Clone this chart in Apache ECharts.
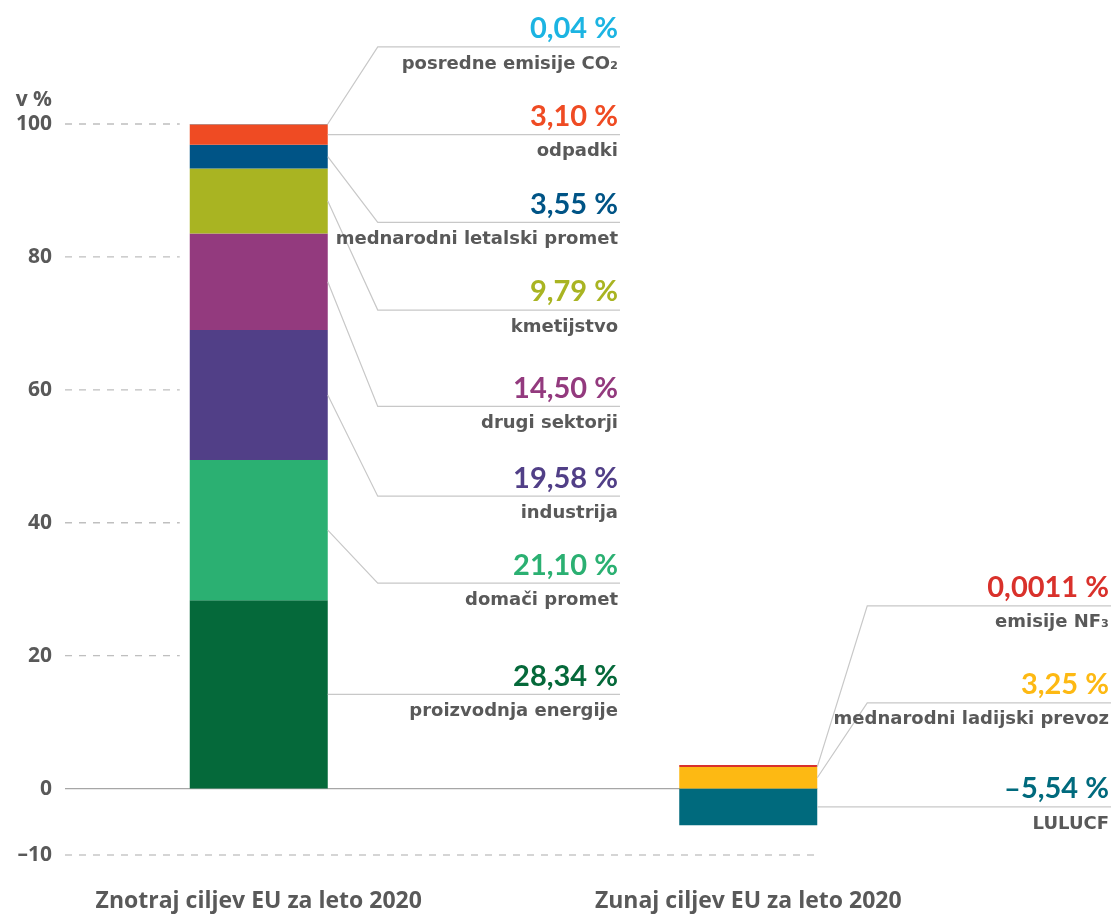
<!DOCTYPE html>
<html>
<head>
<meta charset="utf-8">
<script src="https://cdn.jsdelivr.net/npm/echarts@6/dist/echarts.min.js"></script>
<style>html,body{margin:0;padding:0;background:#fff}#c{width:1111px;height:916px}</style>
</head>
<body>
<div id="c"></div>
<script>
// ---- data ----
const categories = ['Znotraj ciljev EU za leto 2020', 'Zunaj ciljev EU za leto 2020'];
const seriesNames = ['proizvodnja energije', 'domači promet', 'industrija', 'drugi sektorji', 'kmetijstvo',
  'mednarodni letalski promet', 'odpadki', 'posredne emisije CO₂', 'LULUCF', 'mednarodni ladijski prevoz', 'emisije NF₃'];
const seriesCategory = [0, 0, 0, 0, 0, 0, 0, 0, 1, 1, 1];
const seriesValues = [28.34, 21.10, 19.58, 14.50, 9.79, 3.55, 3.10, 0.04, -5.54, 3.25, 0.0011];
const valueDecimals = [2, 2, 2, 2, 2, 2, 2, 2, 2, 2, 4];
const yTicks = [100, 80, 60, 40, 20, 0, -10];
const yName = 'v %';

// ---- style / layout ----
const seriesColors = ['#05693A', '#2BB072', '#513F87', '#933A7E', '#A9B422', '#005486', '#EF4B23', '#1CB4E2',
  '#006A7D', '#FDB913', '#D9312B'];
const labelColors = seriesColors;
// label line level (axis units); null = same as anchor (horizontal line)
const labelLevels = [null, 30.9, 44.0, 57.5, 72.0, 85.2, null, 111.6, null, 12.9, 27.5];
const anchorTop = [false, false, false, false, false, false, false, true, false, false, true];
const barW = 138;
const gridLeft = 14, axisShift = 51;
const labelRight = [618, 1109];
const elbow = 50;
const gray = '#595959';

function fmtVal(v, d) {
  return (v < 0 ? '–' : '') + Math.abs(v).toFixed(d).replace('.', ',') + ' %';
}

const chart = echarts.init(document.getElementById('c'));
chart.setOption({
  animation: false,
  grid: { left: gridLeft, right: 118, top: 124, bottom: 61 },
  xAxis: {
    type: 'category', data: categories,
    axisLine: { show: false }, axisTick: { show: false },
    axisLabel: { margin: 35, fontFamily: 'Open Sans', fontWeight: 'bold', fontSize: 23, color: gray }
  },
  yAxis: {
    type: 'value', min: -10, max: 100, interval: 10, offset: -axisShift,
    axisLine: { show: false }, axisTick: { show: false }, splitLine: { show: false },
    axisLabel: {
      margin: 13, fontFamily: 'Open Sans', fontWeight: 'bold', fontSize: 21, color: gray,
      formatter: v => yTicks.includes(v) ? (v < 0 ? '–' + Math.abs(v) : String(v)) : ''
    },
    name: yName, nameLocation: 'end', nameGap: 13,
    nameTextStyle: { fontFamily: 'Open Sans', fontWeight: 'bold', fontSize: 21, color: gray, align: 'right', padding: [0, 13, 0, 0] }
  },
  series: seriesNames.map((n, i) => ({
    type: 'bar', name: n, stack: 'total', barWidth: barW,
    barMinHeight: anchorTop[i] ? 2 : 0,
    data: categories.map((c, ci) => ci === seriesCategory[i] ? seriesValues[i] : '-'),
    itemStyle: { color: seriesColors[i] }
  }))
});

// ---- annotations via library scales ----
const g = [];
const axisX = gridLeft + axisShift;
const px = (cat, v) => chart.convertToPixel({ seriesIndex: 0 }, [cat, v]);
const bar1Left = px(0, 0)[0] - barW / 2;
const bar2Right = px(1, 0)[0] + barW / 2;
yTicks.forEach(t => {
  const y = px(0, t)[1];
  if (t === 0) {
    g.push({ type: 'line', z: 0, shape: { x1: axisX, y1: y, x2: bar2Right, y2: y }, style: { stroke: '#A6A6A6', lineWidth: 1.2 } });
  } else {
    const x2 = t === -10 ? bar2Right : bar1Left - 10;
    g.push({ type: 'line', z: 0, shape: { x1: axisX, y1: y, x2: x2, y2: y }, style: { stroke: '#BFBFBF', lineWidth: 1.3, lineDash: [7, 7] } });
  }
});
const posSum = [0, 0], negSum = [0, 0];
seriesValues.forEach((v, i) => {
  const c = seriesCategory[i];
  let base, top;
  if (v >= 0) { base = posSum[c]; top = base + v; posSum[c] = top; }
  else { base = negSum[c]; top = base + v; negSum[c] = top; }
  const anchorV = anchorTop[i] ? top : (base + top) / 2;
  const a = px(c, anchorV);
  const bx = a[0] + barW / 2;
  const lvl = labelLevels[i] === null ? anchorV : labelLevels[i];
  const ly = px(c, lvl)[1];
  const ex = labelLevels[i] === null ? bx : bx + elbow;
  const rx = labelRight[c];
  g.push({ type: 'polyline', z: 3, shape: { points: [[bx, a[1]], [ex, ly], [rx + 2, ly]] }, style: { stroke: '#C8C8C8', lineWidth: 1.2, fill: null } });
  g.push({ type: 'text', z: 4, x: rx, y: ly - 18, style: { text: fmtVal(v, valueDecimals[i]), fill: labelColors[i], font: 'bold 29px Lato', align: 'right', verticalAlign: 'middle' } });
  g.push({ type: 'text', z: 4, x: rx, y: ly + 17, style: { text: seriesNames[i], fill: gray, font: 'bold 18px "DejaVu Sans"', align: 'right', verticalAlign: 'middle' } });
});
chart.setOption({ graphic: g });
</script>
</body>
</html>
